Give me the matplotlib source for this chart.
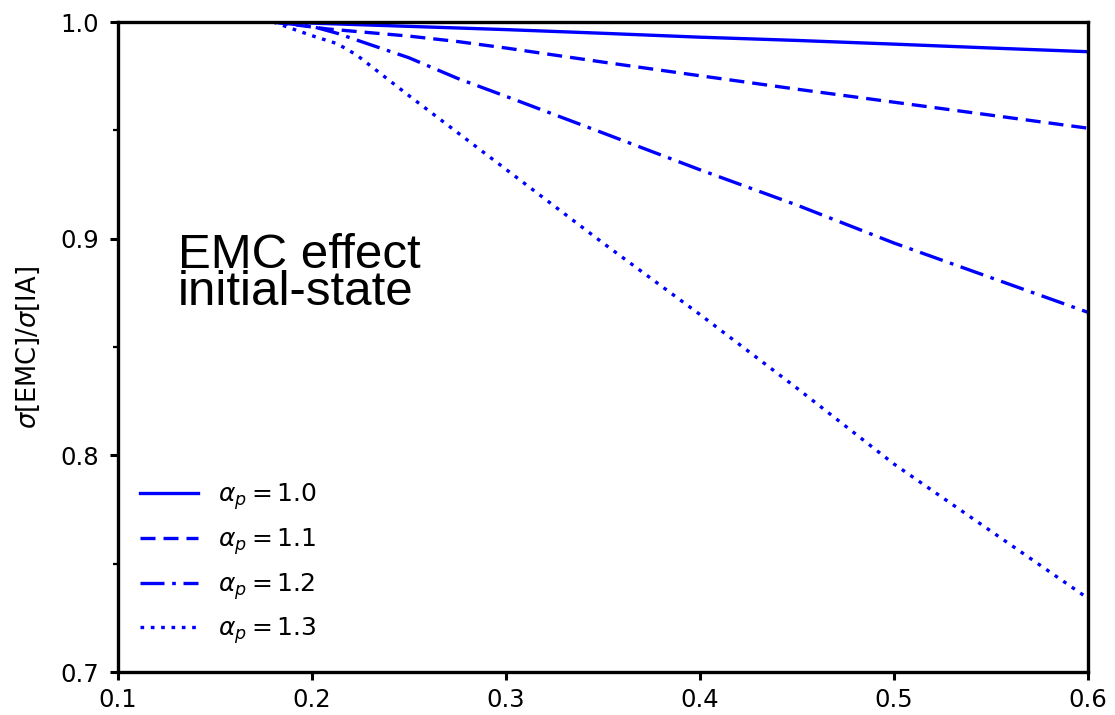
import matplotlib
matplotlib.use("Agg")
import matplotlib.pyplot as plt

# curves, one x grid per curve
x_10 = [0.18, 0.20, 0.25, 0.30, 0.35, 0.40, 0.45, 0.50, 0.55, 0.60]
y_10 = [1.000, 0.9995, 0.998, 0.9965, 0.9948, 0.993, 0.9915, 0.9898, 0.988, 0.9863]

x_11 = [0.18, 0.208, 0.25, 0.275, 0.30, 0.35, 0.40, 0.45, 0.50, 0.55, 0.60]
y_11 = [1.000, 0.9968, 0.9935, 0.991, 0.988, 0.9815, 0.9752, 0.969, 0.963, 0.957, 0.951]

x_12 = [0.18, 0.20, 0.213, 0.223, 0.25, 0.275, 0.30, 0.35, 0.40, 0.45, 0.50, 0.55, 0.60]
y_12 = [1.000, 0.998, 0.9948, 0.9917, 0.9835, 0.974, 0.9657, 0.9488, 0.9318, 0.9155, 0.898, 0.882, 0.866]

x_13 = [0.18, 0.20, 0.213, 0.223, 0.25, 0.275, 0.30, 0.35, 0.40, 0.45, 0.50, 0.55, 0.60]
y_13 = [1.000, 0.9937, 0.990, 0.9848, 0.966, 0.949, 0.932, 0.898, 0.865, 0.831, 0.796, 0.765, 0.734]

labels = [r"$\alpha_p = 1.0$", r"$\alpha_p = 1.1$", r"$\alpha_p = 1.2$", r"$\alpha_p = 1.3$"]
styles = ["-", (0, (4.5, 2.4)), (0, (7.2, 2.3, 1.1, 2.3)), (0, (1.1, 2.0))]

fig = plt.figure(figsize=(11.15, 7.15), dpi=100)
ax = fig.add_axes([0.1058, 0.0601, 0.870, 0.9091])

series = [(x_10, y_10), (x_11, y_11), (x_12, y_12), (x_13, y_13)]
for (xs, ys), ls, label in zip(series, styles, labels):
    ax.plot(xs, ys, color="blue", linestyle=ls, linewidth=2.4, label=label)

ax.set_xlim(0.1, 0.6)
ax.set_ylim(0.7, 1.0)
ax.set_xticks([0.1, 0.2, 0.3, 0.4, 0.5, 0.6])
ax.set_yticks([0.7, 0.8, 0.9, 1.0])
ax.set_yticks([0.75, 0.85, 0.95], minor=True)
ax.tick_params(axis="both", which="major", direction="out", length=6, width=2.2,
               labelsize=17.5, pad=7.5)
ax.tick_params(axis="x", which="major", pad=5.5)
ax.tick_params(axis="y", which="minor", direction="out", length=3.5, width=1.6)
for spine in ax.spines.values():
    spine.set_linewidth(2.4)

ax.set_ylabel(r"$\sigma$[EMC]/$\sigma$[IA]", fontsize=18.5)
ax.yaxis.set_label_coords(-0.078, 0.5)

ax.text(0.062, 0.676, "EMC effect\ninitial-state", fontsize=35.5, family="Liberation Sans",
        ha="left", va="top", linespacing=0.78, transform=ax.transAxes)

ax.legend(loc="lower left", bbox_to_anchor=(0.0, 0.005), frameon=False, fontsize=18,
          handlelength=2.3, labelspacing=0.56, handletextpad=0.8)

fig.savefig("out.png", dpi=100)
